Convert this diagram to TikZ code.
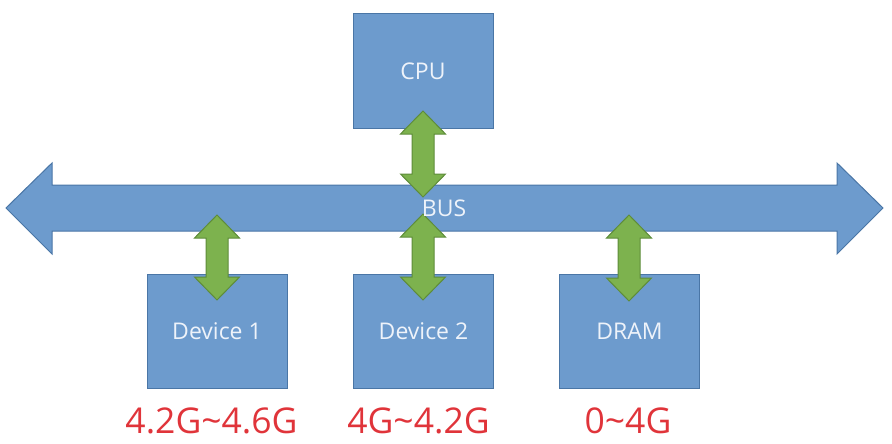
\documentclass[tikz,border=0pt]{standalone}
\usepackage{fontspec}
\setmainfont{Open Sans}
\definecolor{boxblue}{HTML}{6D9BCD}
\definecolor{boxedge}{HTML}{4A76A6}
\definecolor{arrgreen}{HTML}{7DB24E}
\definecolor{arredge}{HTML}{5E8C3A}
\definecolor{lbltext}{HTML}{EEF3FA}
\definecolor{addrred}{HTML}{E0343A}
\newcommand\gdarrow[4]{% name, cx, ytop, ybot
  \draw[greenarrow] (#2,#3) coordinate (#1-top)
    -- (#2+22.5,#3+23) -- (#2+11,#3+23) -- (#2+11,#4-23) -- (#2+22.5,#4-23)
    -- (#2,#4) coordinate (#1-bot)
    -- (#2-22.5,#4-23) -- (#2-11,#4-23) -- (#2-11,#3+23) -- (#2-22.5,#3+23) -- cycle;}
\begin{document}
\begin{tikzpicture}[x=1pt,y=-1pt,
  unitbox/.style={draw=boxedge, line width=1pt, fill=boxblue, minimum width=140pt, minimum height=114pt, inner sep=0pt, text=lbltext, font=\fontsize{23}{27}\selectfont},
  busshape/.style={draw=boxedge, line width=1pt, fill=boxblue},
  greenarrow/.style={draw=arredge, line width=1pt, fill=arrgreen},
  addr/.style={text=addrred, font=\fontsize{35.5}{40}\selectfont, anchor=base}]
\useasboundingbox (0,0) rectangle (892,444);
% bus
\draw[busshape] (6,208) coordinate (busL) -- (52,163) -- (52,185) -- (837,185) -- (837,163)
  -- (883,208) coordinate (busR) -- (837,254) -- (837,231) -- (52,231) -- (52,254) -- cycle;
% units
\node[unitbox] (cpu)  at (423,71)    {CPU};
\node[unitbox] (dev1) at (217,331)   {Device 1};
\node[unitbox] (dev2) at (423.5,331) {Device 2};
\node[unitbox] (dram) at (629.5,331) {DRAM};
% connectors
\gdarrow{acpu}{423}{111}{197}
\gdarrow{adev1}{217}{215}{300}
\gdarrow{adev2}{423}{214}{300}
\gdarrow{adram}{629}{215}{301}
% bus label
\node[text=lbltext, font=\fontsize{23}{27}\selectfont] (buslbl) at (444,208.5) {BUS};
% address ranges
\node[addr] (r1) at (211.5,433) {4.2G\char"007E 4.6G};
\node[addr] (r2) at (418.5,433) {4G\char"007E 4.2G};
\node[addr] (r3) at (628,433) {0\char"007E 4G};
\end{tikzpicture}
\end{document}
